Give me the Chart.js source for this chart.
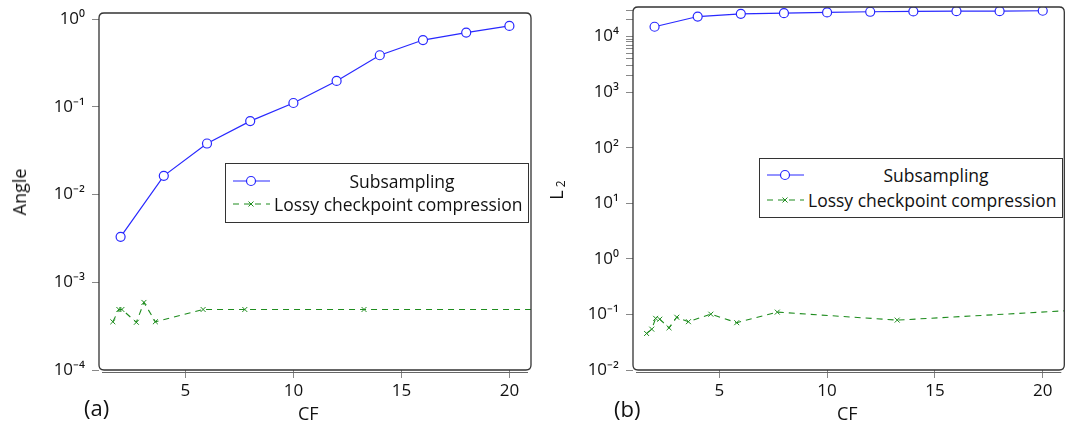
<!DOCTYPE html>
<html>
<head>
<meta charset="utf-8">
<script src="https://cdn.jsdelivr.net/npm/chart.js@4/dist/chart.umd.min.js"></script>
<style>
  html, body { margin: 0; padding: 0; background: #fff; overflow: hidden; }
  body { width: 1066px; height: 428px; position: relative; font-family: "Open Sans", sans-serif; color: #111; }
  canvas { position: absolute; top: 0; }
  .lbl { position: absolute; white-space: nowrap; font-size: 18px; line-height: 1; }
  .rot { transform: translate(-50%, -50%) rotate(-90deg); }
  .legend { position: absolute; border: 1px solid #333; background: #fff; font-size: 17.5px; }
  .legend .row { position: absolute; left: 0; right: 0; height: 22px; }
  .legend svg { position: absolute; left: 6px; top: 0; }
  .legend span { position: absolute; line-height: 22px; top: 0; }
</style>
</head>
<body>
<canvas id="chartA" width="540" height="428" style="left:0"></canvas>
<canvas id="chartB" width="530" height="428" style="left:540px"></canvas>

<div class="lbl rot" style="left:19px; top:192px;">Angle</div>
<div class="lbl rot" style="left:557px; top:190px;">L<sub style="font-size:12px; vertical-align:-2px">&nbsp;2</sub></div>
<div class="lbl" style="left:298px; top:404px;">CF</div>
<div class="lbl" style="left:837px; top:404px;">CF</div>
<div class="lbl" style="left:84px; top:396px; font-size:22px;">(a)</div>
<div class="lbl" style="left:614px; top:397px; font-size:22px;">(b)</div>

<div class="legend" style="left:225px; top:163px; width:302px; height:58px;">
  <div class="row" style="top:6px">
    <svg width="40" height="22"><line x1="1" y1="11" x2="38" y2="11" stroke="rgb(40,40,255)" stroke-width="1.2"/><circle cx="19" cy="11" r="4.5" fill="#fff" stroke="rgb(40,40,255)" stroke-width="1.2"/></svg>
    <span style="left:50px; right:0; text-align:center;">Subsampling</span>
  </div>
  <div class="row" style="top:29px">
    <svg width="40" height="22"><line x1="1" y1="11" x2="38" y2="11" stroke="rgb(30,140,30)" stroke-width="1.1" stroke-dasharray="6 5"/><path d="M16.5 8.5 L21.5 13.5 M21.5 8.5 L16.5 13.5" stroke="rgb(30,140,30)" stroke-width="1"/></svg>
    <span style="left:48px;">Lossy checkpoint compression</span>
  </div>
</div>

<div class="legend" style="left:759px; top:158px; width:302px; height:58px;">
  <div class="row" style="top:5px">
    <svg width="40" height="22"><line x1="1" y1="11" x2="38" y2="11" stroke="rgb(40,40,255)" stroke-width="1.2"/><circle cx="19" cy="11" r="4.5" fill="#fff" stroke="rgb(40,40,255)" stroke-width="1.2"/></svg>
    <span style="left:50px; right:0; text-align:center;">Subsampling</span>
  </div>
  <div class="row" style="top:30px">
    <svg width="40" height="22"><line x1="1" y1="11" x2="38" y2="11" stroke="rgb(30,140,30)" stroke-width="1.1" stroke-dasharray="6 5"/><path d="M16.5 8.5 L21.5 13.5 M21.5 8.5 L16.5 13.5" stroke="rgb(30,140,30)" stroke-width="1"/></svg>
    <span style="left:48px;">Lossy checkpoint compression</span>
  </div>
</div>

<script>
// compression factors
const cfSub = [2, 4, 6, 8, 10, 12, 14, 16, 18, 20];
const cfLossyA = [1.64, 1.92, 2.06, 2.73, 3.08, 3.61, 5.82, 7.75, 13.27, 21];
const cfLossyB = [1.63, 1.87, 2.05, 2.24, 2.67, 3.03, 3.57, 4.61, 5.81, 7.69, 13.25, 21];

// (a) angle
const angleSub = [0.0033, 0.0164, 0.0383, 0.069, 0.111, 0.198, 0.389, 0.58, 0.705, 0.84];
const angleLossy = [3.55e-4, 4.9e-4, 4.9e-4, 3.5e-4, 5.9e-4, 3.55e-4, 4.9e-4, 4.9e-4, 4.9e-4, 4.9e-4];

// (b) L2
const l2Sub = [1.5e4, 2.29e4, 2.56e4, 2.63e4, 2.71e4, 2.79e4, 2.83e4, 2.86e4, 2.86e4, 2.91e4];
const l2Lossy = [0.0454, 0.0543, 0.085, 0.082, 0.0574, 0.089, 0.074, 0.101, 0.071, 0.11, 0.079, 0.116];

const ticksA = [1e-4, 1e-3, 1e-2, 1e-1, 1];
const ticksB = [1e-2, 1e-1, 1, 10, 100, 1000, 2000, 3000, 4000, 5000, 6000, 7000, 8000, 9000, 1e4, 2e4, 3e4];

const BLUE = 'rgb(40,40,255)';
const GREEN = 'rgb(30,140,30)';
const SUP = { '0': '⁰', '1': '¹', '2': '²', '3': '³', '4': '⁴', '-': '⁻' };

function powLabel(v) {
  const e = Math.log10(v);
  if (Math.abs(e - Math.round(e)) > 1e-6) return '';
  return '10' + String(Math.round(e)).split('').map(c => SUP[c]).join('');
}

function pts(xs, ys) {
  return xs.map((x, i) => ({ x: x, y: ys[i] }));
}

// rounded frame around the plot area plus the x axis line
const framePlugin = {
  id: 'frame',
  afterDraw(chart) {
    const a = chart.chartArea, ctx = chart.ctx, r = 5;
    ctx.save();
    ctx.strokeStyle = '#333';
    ctx.lineWidth = 1.3;
    ctx.beginPath();
    ctx.moveTo(a.left + r, a.top);
    ctx.lineTo(a.right - r, a.top);
    ctx.quadraticCurveTo(a.right, a.top, a.right, a.top + r);
    ctx.lineTo(a.right, a.bottom - r);
    ctx.quadraticCurveTo(a.right, a.bottom, a.right - r, a.bottom);
    ctx.lineTo(a.left + r, a.bottom);
    ctx.quadraticCurveTo(a.left, a.bottom, a.left, a.bottom - r);
    ctx.lineTo(a.left, a.top + r);
    ctx.quadraticCurveTo(a.left, a.top, a.left + r, a.top);
    ctx.stroke();
    ctx.strokeStyle = '#666';
    ctx.lineWidth = 1;
    ctx.beginPath();
    ctx.moveTo(a.left + 3, a.bottom + 2.5);
    ctx.lineTo(a.right - 3, a.bottom + 2.5);
    ctx.stroke();
    ctx.restore();
  }
};

function makeChart(id, subY, lossyX, lossyY, yMin, yMax, yTicks, yWidth, pad) {
  const ctx = document.getElementById(id).getContext('2d');
  return new Chart(ctx, {
    type: 'line',
    data: {
      datasets: [
        {
          label: 'Subsampling',
          data: pts(cfSub, subY),
          borderColor: BLUE,
          borderWidth: 1.2,
          pointStyle: 'circle',
          pointRadius: 4.5,
          pointBorderWidth: 1.2,
          pointBorderColor: BLUE,
          pointBackgroundColor: '#fff',
          tension: 0
        },
        {
          label: 'Lossy checkpoint compression',
          data: pts(lossyX, lossyY),
          borderColor: GREEN,
          borderWidth: 1.1,
          borderDash: [6, 5],
          pointStyle: 'crossRot',
          pointRadius: lossyX.map((x, i) => i === lossyX.length - 1 ? 0 : 3.5),
          pointBorderWidth: 1,
          pointBorderColor: GREEN,
          tension: 0
        }
      ]
    },
    options: {
      responsive: false,
      animation: false,
      layout: { padding: pad },
      plugins: { legend: { display: false }, tooltip: { enabled: false } },
      scales: {
        x: {
          type: 'linear',
          min: 1,
          max: 21,
          afterBuildTicks: s => { s.ticks = [5, 10, 15, 20].map(v => ({ value: v })); },
          afterFit: s => { s.height = 58; s.paddingLeft = 0; s.paddingRight = 0; },
          border: { display: false },
          grid: { drawOnChartArea: false, tickLength: 8, color: '#888' },
          ticks: { font: { family: 'Open Sans', size: 17 }, color: '#111', padding: 3, maxRotation: 0 }
        },
        y: {
          type: 'logarithmic',
          min: yMin,
          max: yMax,
          afterBuildTicks: s => { s.ticks = yTicks.map(v => ({ value: v })); },
          afterFit: s => { s.width = yWidth; s.paddingTop = 0; s.paddingBottom = 0; },
          border: { display: false },
          grid: { drawOnChartArea: false, tickLength: 7, color: '#888' },
          ticks: {
            font: { family: 'Open Sans', size: 17 },
            color: '#111',
            padding: 7,
            autoSkip: false,
            callback: v => powLabel(v)
          }
        }
      }
    },
    plugins: [framePlugin]
  });
}

makeChart('chartA', angleSub, cfLossyA, angleLossy, 1e-4, 1.18, ticksA, 99, { top: 13, right: 9, left: 0, bottom: 0 });
makeChart('chartB', l2Sub, cfLossyB, l2Lossy, 1e-2, 3.4e4, ticksB, 93, { top: 7, right: 3, left: 0, bottom: 0 });
</script>
</body>
</html>
